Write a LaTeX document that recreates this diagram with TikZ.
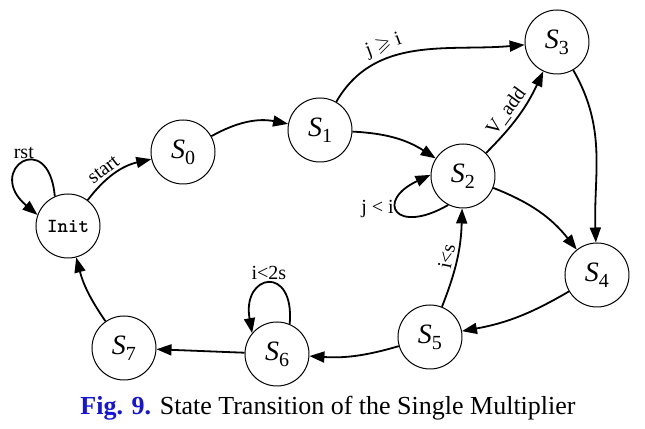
\documentclass[tikz,border=0pt]{standalone}
\usepackage{fontspec}
\usepackage{amssymb}
\setmainfont{Liberation Serif}
\usetikzlibrary{arrows.meta}

\newcommand{\stname}[1]{\textit{S}\raisebox{-0.45ex}{\fontsize{10}{10}\selectfont #1}}

\tikzset{
  state/.style={circle, draw, line width=0.5pt, minimum size=32pt, inner sep=0pt,
    font=\fontsize{14}{14}\selectfont},
  trans/.style={-{Triangle[length=7.5pt,width=5.5pt]}, line width=0.9pt},
  lbl/.style={font=\fontsize{10}{11}\selectfont, inner sep=1.5pt}
}

\begin{document}
\begin{tikzpicture}[x=0.5pt, y=0.5pt]
  \useasboundingbox (0,0) rectangle (645,429);
  \node[state] (init) at (68,203) {\ttfamily\bfseries\fontsize{10}{10}\selectfont Init};
  \node[state] (s0) at (183,277) {\stname{0}};
  \node[state] (s1) at (320,299) {\stname{1}};
  \node[state] (s2) at (463,253) {\stname{2}};
  \node[state] (s3) at (557,387) {\stname{3}};
  \node[state] (s4) at (597,154) {\stname{4}};
  \node[state] (s5) at (430,92) {\stname{5}};
  \node[state] (s6) at (277,75) {\stname{6}};
  \node[state] (s7) at (124,81) {\stname{7}};
  \node (cap) at (328,21) {\fontsize{13}{15}\selectfont
    \textcolor[RGB]{20,20,220}{\bfseries Fig. 9.} State Transition of the Single Multiplier};

  \draw[trans] (init.114) to[out=95, in=140, looseness=7] node[lbl, above] {rst} (init.160);
  \draw[trans] (init) to[bend left=20] node[lbl, sloped, above, pos=0.4] {start} (s0);
  \draw[trans] (s0) to[bend left=20] (s1);
  \draw[trans] (s1) to[out=60, in=185] node[lbl, sloped, above, pos=0.35] {j $\geqslant$ i} (s3);
  \draw[trans] (s1) to[bend left=15] (s2);
  \draw[trans] (s2) to[bend right=10] node[lbl, sloped, above, pos=0.45] {V\_add} (s3);
  \draw[trans] (s2.243) to[out=210, in=205, looseness=4.5] node[lbl, left, pos=0.55] {j < i} (s2.178);
  \draw[trans] (s3) to[out=-60, in=92] (s4);
  \draw[trans] (s2) to[bend left=15] (s4);
  \draw[trans] (s4) to[bend left=10] (s5);
  \draw[trans] (s5) to[bend right=10] node[lbl, sloped, above] {i<s} (s2);
  \draw[trans] (s5) to[bend left=10] (s6);
  \draw[trans] (s6.67) to[out=85, in=100, looseness=4] node[lbl, above] {i<2s} (s6.140);
  \draw[trans] (s6) -- (s7);
  \draw[trans] (s7) to[bend left=10] (init);
\end{tikzpicture}
\end{document}
